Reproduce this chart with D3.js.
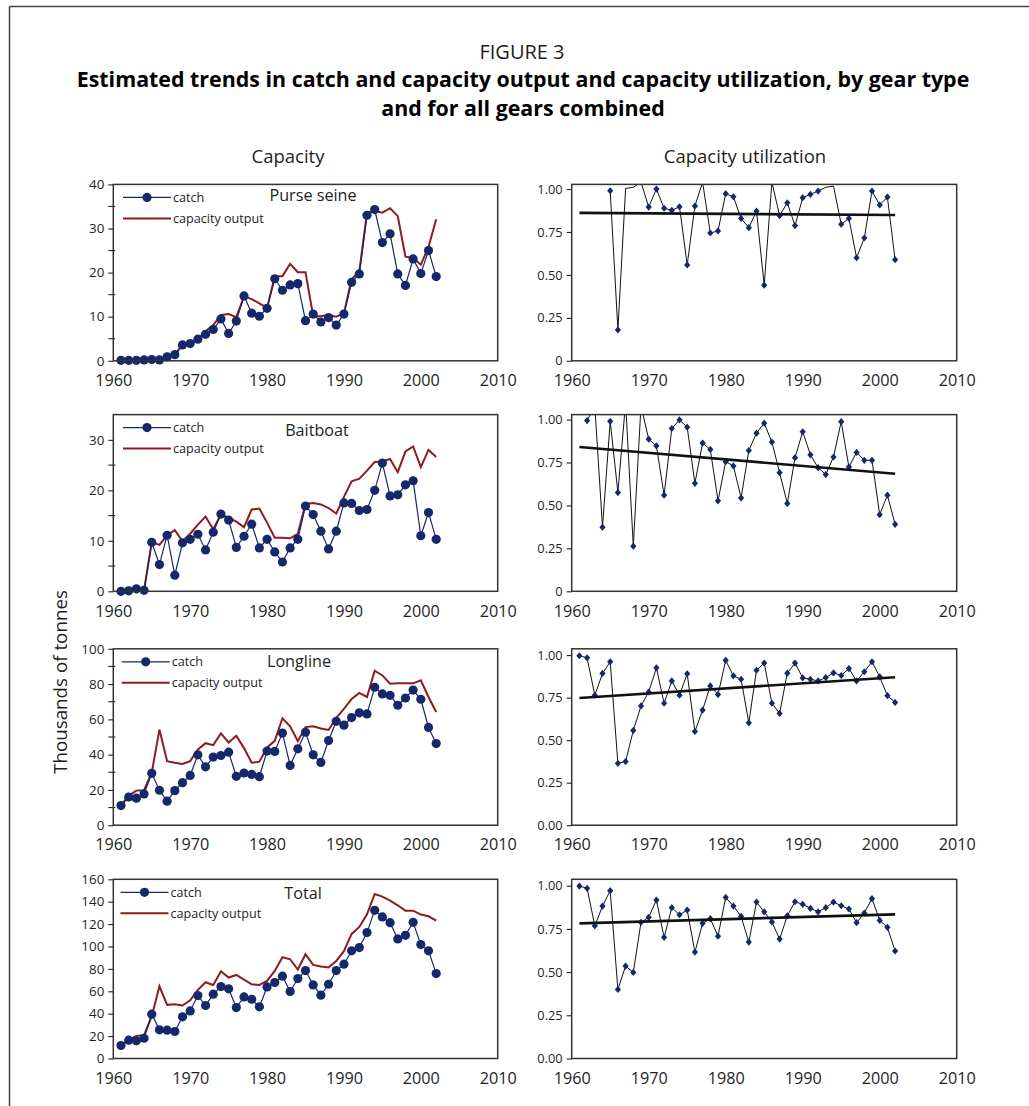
<!DOCTYPE html>
<html>
<head>
<meta charset="utf-8">
<script src="https://cdn.jsdelivr.net/npm/d3@7"></script>
<style>
  body { margin: 0; background: #fff; }
  svg { display: block; font-family: "Open Sans", "Noto Sans", sans-serif; }
</style>
</head>
<body>
<svg id="fig" width="1029" height="1106"></svg>
<script>
// ---- data (thousands of tonnes; utilization as a ratio) ----
const years = [1961,1962,1963,1964,1965,1966,1967,1968,1969,1970,
               1971,1972,1973,1974,1975,1976,1977,1978,1979,1980,
               1981,1982,1983,1984,1985,1986,1987,1988,1989,1990,
               1991,1992,1993,1994,1995,1996,1997,1998,1999,2000,
               2001,2002];

const gearNames = ["Purse seine", "Baitboat", "Longline", "Total"];

const purseCatch = [0.1,0.1,0.1,0.2,0.3,0.2,0.9,1.4,3.6,3.9,
                    4.9,6.0,7.1,9.5,6.2,9.0,14.7,10.8,10.1,11.9,
                    18.6,16.0,17.2,17.5,9.1,10.6,8.8,9.8,8.1,10.6,
                    17.8,19.7,33.0,34.3,26.8,28.8,19.7,17.1,23.1,19.8,
                    25.0,19.1];
const purseCapacity = [0.1,0.1,0.1,0.2,0.3,0.2,0.9,1.4,3.6,3.9,
                       4.9,6.7,8.1,10.4,10.6,9.9,14.6,14.0,13.0,12.0,
                       19.2,19.2,22.0,20.1,20.1,10.1,10.1,10.4,10.0,10.8,
                       18.5,20.3,33.6,34.0,33.6,34.6,32.8,23.6,23.3,21.8,
                       25.8,32.1];

const baitCatch = [0.0,0.1,0.5,0.2,9.7,5.3,11.1,3.2,9.6,10.3,
                   11.3,8.2,11.7,15.3,14.1,8.7,10.9,13.3,8.6,10.3,
                   7.8,5.8,8.6,10.3,16.9,15.2,11.9,8.4,11.9,17.5,
                   17.4,16.0,16.2,20.0,25.4,18.9,19.1,21.1,21.9,11.0,
                   15.6,10.3];
const baitCapacity = [0.0,0.1,0.5,0.2,9.7,9.2,11.1,12.1,9.9,11.4,
                      13.2,14.8,12.3,15.2,14.6,13.8,12.7,16.2,16.4,13.6,
                      10.6,10.6,10.5,11.4,17.3,17.5,17.2,16.5,15.4,18.7,
                      21.8,22.3,23.9,25.6,25.7,26.2,23.6,27.7,28.7,24.6,
                      28.0,26.6];

const longCatch = [11.1,16.0,15.3,17.7,29.4,19.8,13.6,19.6,24.1,28.2,
                   39.9,33.1,38.6,39.5,41.4,27.7,29.6,28.8,27.5,42.0,
                   41.8,52.2,33.9,43.3,52.7,39.9,35.6,48.0,58.9,56.7,
                   61.0,63.7,63.1,78.2,74.4,73.6,68.0,72.1,76.6,71.4,
                   55.4,46.3];
const longCapacity = [11.3,16.8,19.6,19.8,29.8,54.2,36.3,35.4,34.7,36.3,
                      42.9,46.5,45.4,52.0,46.9,50.7,43.7,35.4,36.0,44.1,
                      47.8,60.6,56.1,47.6,55.6,56.1,54.8,54.0,60.8,65.9,
                      71.6,75.0,72.7,87.6,84.9,80.2,80.4,80.4,80.4,82.1,
                      72.7,64.2];

const totalCatch = [11.6,16.4,15.8,18.1,39.6,25.6,25.3,24.1,37.2,42.5,
                    56.2,47.3,57.4,64.2,62.2,45.5,55.0,52.9,46.1,63.9,
                    67.8,73.5,59.8,71.4,78.5,65.7,56.5,66.3,78.5,84.2,
                    96.1,99.0,112.4,132.3,126.4,121.3,106.8,110.0,121.6,101.7,
                    96.1,75.8];
const totalCapacity = [11.6,16.7,20.2,20.8,37.5,64.5,47.9,48.5,47.3,52.0,
                       61.3,68.1,65.7,77.9,72.3,74.6,70.5,66.3,65.7,69.3,
                       78.2,90.4,88.6,79.4,93.1,83.6,82.1,81.2,87.1,95.8,
                       111.2,117.5,128.8,146.9,144.5,141.0,136.8,132.0,132.0,128.5,
                       127.0,123.1];

const purseUtil = [null,null,null,null,0.99,0.18,1.004,1.01,1.04,0.895,
                   1.00,0.888,0.876,0.897,0.558,0.901,1.04,0.744,0.756,0.973,
                   0.955,0.829,0.775,0.872,0.44,1.04,0.845,0.92,0.787,0.95,
                   0.969,0.988,1.01,1.017,0.795,0.829,0.60,0.715,0.988,0.907,
                   0.953,0.589];
const baitUtil = [null,0.994,1.08,0.373,0.99,0.575,1.1,0.263,1.08,0.886,
                  0.847,0.56,0.948,0.998,0.956,0.629,0.863,0.826,0.527,0.755,
                  0.73,0.544,0.82,0.921,0.979,0.869,0.691,0.512,0.778,0.929,
                  0.795,0.72,0.68,0.782,0.988,0.724,0.809,0.763,0.763,0.446,
                  0.56,0.39];
const longUtil = [0.996,0.984,0.764,0.892,0.961,0.364,0.374,0.557,0.701,0.783,
                  0.925,0.717,0.848,0.764,0.89,0.551,0.677,0.819,0.768,0.969,
                  0.878,0.858,0.602,0.911,0.953,0.717,0.657,0.894,0.953,0.866,
                  0.858,0.848,0.868,0.896,0.88,0.921,0.848,0.902,0.961,0.872,
                  0.762,0.722];
const totalUtil = [0.998,0.985,0.768,0.882,0.971,0.40,0.535,0.498,0.788,0.817,
                   0.917,0.701,0.873,0.832,0.859,0.616,0.782,0.809,0.708,0.932,
                   0.882,0.822,0.674,0.905,0.849,0.79,0.691,0.826,0.907,0.892,
                   0.869,0.849,0.873,0.905,0.884,0.865,0.786,0.842,0.925,0.799,
                   0.759,0.622];

// linear trend fitted to utilization, given at its two end years
const trendYears = [1961, 2002];
const purseTrend = [0.861, 0.849];
const baitTrend = [0.840, 0.685];
const longTrend = [0.748, 0.870];
const totalTrend = [0.782, 0.834];

// axis ticks
const yearTicks = [1960, 1970, 1980, 1990, 2000, 2010];
const capacityMax = [40, 35, 100, 160];
const capacityTicks = [[0,10,20,30,40],[0,10,20,30],[0,20,40,60,80,100],
                       [0,20,40,60,80,100,120,140,160]];
const capacityMinorTicks = [[5,15,25,35],[5,15,25],[10,30,50,70,90],[]];
const utilTicks = [0, 0.25, 0.5, 0.75, 1];
const utilTickLabels = [["0","0.25","0.50","0.75","1.00"],
                        ["0","0.25","0.50","0.75","1.00"],
                        ["0.00","0.25","0.50","0.75","1.00"],
                        ["0.00","0.25","0.50","0.75","1.00"]];
const utilMax = [1.027, 1.029, 1.037, 1.037];

const legendLabels = ["catch", "capacity output"];

const catchSeries = [purseCatch, baitCatch, longCatch, totalCatch];
const capacitySeries = [purseCapacity, baitCapacity, longCapacity, totalCapacity];
const utilSeries = [purseUtil, baitUtil, longUtil, totalUtil];
const trendSeries = [purseTrend, baitTrend, longTrend, totalTrend];

// ---- layout ----
const FONT = '"Open Sans", "Noto Sans", sans-serif';
const TXT = "#1e1e1e";
const NAVY = "#14286b";
const RED = "#8e1b1e";

const svg = d3.select("#fig");

// figure frame
svg.append("line").attr("x1", 9.5).attr("x2", 1029).attr("y1", 6.5).attr("y2", 6.5)
  .attr("stroke", "#444").attr("stroke-width", 1.5);
svg.append("line").attr("x1", 9.5).attr("x2", 9.5).attr("y1", 6.5).attr("y2", 1106)
  .attr("stroke", "#444").attr("stroke-width", 1.5);

// headings
svg.append("text").attr("x", 522).attr("y", 58.5).attr("text-anchor", "middle")
  .attr("font-size", 20).attr("fill", TXT).text("FIGURE 3");
svg.append("text").attr("x", 523).attr("y", 87).attr("text-anchor", "middle")
  .attr("font-size", 21.4).attr("font-weight", "bold").attr("fill", "#000")
  .text("Estimated trends in catch and capacity output and capacity utilization, by gear type");
svg.append("text").attr("x", 523).attr("y", 115.5).attr("text-anchor", "middle")
  .attr("font-size", 21.4).attr("font-weight", "bold").attr("fill", "#000")
  .text("and for all gears combined");
svg.append("text").attr("x", 288).attr("y", 163).attr("text-anchor", "middle")
  .attr("font-size", 18.5).attr("fill", TXT).text("Capacity");
svg.append("text").attr("x", 745).attr("y", 163).attr("text-anchor", "middle")
  .attr("font-size", 18.5).attr("fill", TXT).text("Capacity utilization");
svg.append("text").attr("transform", "translate(67,682) rotate(-90)")
  .attr("text-anchor", "middle").attr("font-size", 18.8).attr("fill", TXT)
  .text("Thousands of tonnes");

const leftX = [113.3, 497.7];
const rightX = [571.7, 956.7];
const rows = [
  { top: 184.4, bottom: 360.8 },
  { top: 414.6, bottom: 591.3 },
  { top: 648.8, bottom: 825.2 },
  { top: 879.3, bottom: 1058.5 }
];
const gearLabelPos = [{ x: 313, dy: 16.4 }, { x: 317, dy: 21.4 }, { x: 299, dy: 17.7 }, { x: 303, dy: 19.7 }];
const legendX0 = [123, 123, 121.7, 120.5];

const xLeft = d3.scaleLinear().domain([1960, 2010]).range(leftX);
const xRight = d3.scaleLinear().domain([1960, 2010]).range(rightX);

function styleAxis(g, size) {
  g.attr("font-family", FONT).attr("font-size", size);
  g.selectAll("text").attr("fill", TXT);
  g.selectAll("line").attr("stroke", "#222").attr("stroke-width", 1.1);
  g.select(".domain").remove();
}

function xAxis(g, scale, bottom) {
  g.attr("transform", `translate(0,${bottom})`)
    .call(d3.axisBottom(scale).tickValues(yearTicks).tickFormat(d3.format("d"))
      .tickSize(0).tickPadding(13.8));
  styleAxis(g, 16.2);
}

function box(g, x0, x1, top, bottom) {
  g.append("rect").attr("x", x0).attr("y", top)
    .attr("width", x1 - x0).attr("height", bottom - top)
    .attr("fill", "none").attr("stroke", "#333").attr("stroke-width", 1.5);
}

rows.forEach((row, i) => {
  // ---- capacity panel ----
  const gL = svg.append("g");
  const yL = d3.scaleLinear().domain([0, capacityMax[i]]).range([row.bottom, row.top]);

  const ya = gL.append("g").attr("transform", `translate(${leftX[0]},0)`)
    .call(d3.axisLeft(yL).tickValues(capacityTicks[i]).tickSize(5).tickPadding(4));
  styleAxis(ya, 13.4);
  gL.selectAll(null).data(capacityMinorTicks[i]).join("line")
    .attr("x1", leftX[0] - 5).attr("x2", leftX[0] + 2)
    .attr("y1", d => yL(d)).attr("y2", d => yL(d))
    .attr("stroke", "#222").attr("stroke-width", 1.1);
  xAxis(gL.append("g"), xLeft, row.bottom);

  const pts = years.map((yr, k) => ({ yr, c: catchSeries[i][k], cap: capacitySeries[i][k] }));
  gL.append("path").datum(pts)
    .attr("d", d3.line().x(d => xLeft(d.yr)).y(d => yL(d.cap)))
    .attr("fill", "none").attr("stroke", RED).attr("stroke-width", 2);
  gL.append("path").datum(pts)
    .attr("d", d3.line().x(d => xLeft(d.yr)).y(d => yL(d.c)))
    .attr("fill", "none").attr("stroke", NAVY).attr("stroke-width", 1.2);
  gL.selectAll(null).data(pts).join("circle")
    .attr("cx", d => xLeft(d.yr)).attr("cy", d => yL(d.c)).attr("r", 4.6)
    .attr("fill", NAVY);

  box(gL, leftX[0], leftX[1], row.top, row.bottom);

  // legend
  const lx = legendX0[i];
  const ly1 = row.top + 13, ly2 = row.top + 34;
  gL.append("line").attr("x1", lx).attr("x2", lx + 48).attr("y1", ly1).attr("y2", ly1)
    .attr("stroke", NAVY).attr("stroke-width", 1.2);
  gL.append("circle").attr("cx", lx + 24).attr("cy", ly1).attr("r", 4.6).attr("fill", NAVY);
  gL.append("line").attr("x1", lx).attr("x2", lx + 48).attr("y1", ly2).attr("y2", ly2)
    .attr("stroke", RED).attr("stroke-width", 2);
  gL.append("text").attr("x", lx + 50).attr("y", ly1 + 4.3).attr("font-size", 12.6)
    .attr("fill", TXT).text(legendLabels[0]);
  gL.append("text").attr("x", lx + 50).attr("y", ly2 + 4.3).attr("font-size", 12.6)
    .attr("fill", TXT).text(legendLabels[1]);
  gL.append("text").attr("x", gearLabelPos[i].x).attr("y", row.top + gearLabelPos[i].dy)
    .attr("text-anchor", "middle").attr("font-size", 16.2).attr("fill", TXT)
    .text(gearNames[i]);

  // ---- utilization panel ----
  const gR = svg.append("g");
  const yR = d3.scaleLinear().domain([0, utilMax[i]]).range([row.bottom, row.top]);
  const ra = gR.append("g").attr("transform", `translate(${rightX[0]},0)`)
    .call(d3.axisLeft(yR).tickValues(utilTicks).tickSize(5).tickPadding(4)
      .tickFormat((d, k) => utilTickLabels[i][k]));
  styleAxis(ra, 12.8);
  xAxis(gR.append("g"), xRight, row.bottom);

  const clipId = "clip-util-" + i;
  gR.append("clipPath").attr("id", clipId).append("rect")
    .attr("x", rightX[0]).attr("y", row.top)
    .attr("width", rightX[1] - rightX[0]).attr("height", row.bottom - row.top);

  const u = years.map((yr, k) => ({ yr, v: utilSeries[i][k] }));
  const plot = gR.append("g").attr("clip-path", `url(#${clipId})`);
  plot.append("path").datum(u.filter(d => d.v !== null))
    .attr("d", d3.line().x(d => xRight(d.yr)).y(d => yR(d.v)))
    .attr("fill", "none").attr("stroke", "#111").attr("stroke-width", 1);
  plot.selectAll(null).data(u.filter(d => d.v !== null && d.v <= 1)).join("path")
    .attr("transform", d => `translate(${xRight(d.yr)},${yR(d.v)})`)
    .attr("d", "M0,-3.6L3.1,0L0,3.6L-3.1,0Z")
    .attr("fill", NAVY);
  plot.append("path").datum(trendYears.map((yr, k) => ({ yr, v: trendSeries[i][k] })))
    .attr("d", d3.line().x(d => xRight(d.yr)).y(d => yR(d.v)))
    .attr("fill", "none").attr("stroke", "#111").attr("stroke-width", 2.6);

  box(gR, rightX[0], rightX[1], row.top, row.bottom);
});
</script>
</body>
</html>
